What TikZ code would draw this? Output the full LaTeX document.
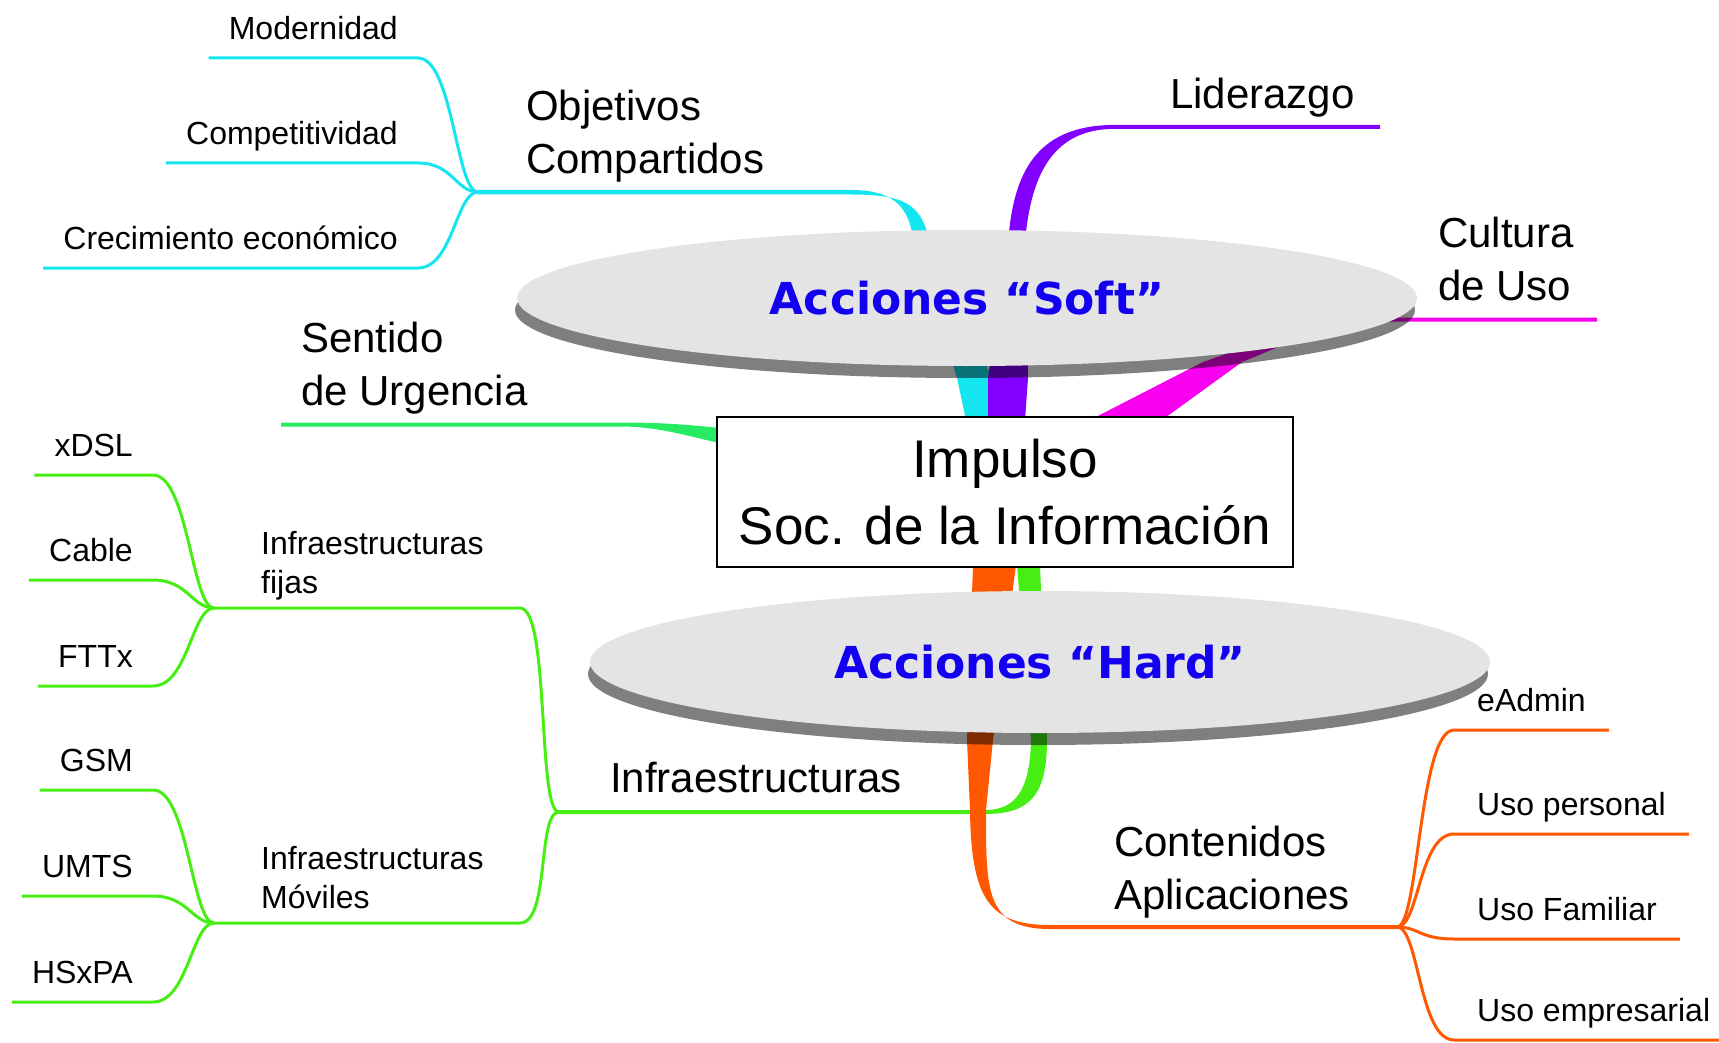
\documentclass[tikz,border=0pt]{standalone}
\usepackage{fontspec}
\setmainfont{Liberation Sans}
\newfontfamily\accfont{DejaVu Sans}
\usepackage{tikz}
\usetikzlibrary{shapes.geometric,shadows}

\definecolor{soccyan}{RGB}{20,230,240}
\definecolor{socviolet}{RGB}{130,0,255}
\definecolor{socmagenta}{RGB}{250,0,240}
\definecolor{socspring}{RGB}{40,235,100}
\definecolor{soclime}{RGB}{70,238,20}
\definecolor{socorange}{RGB}{255,88,0}
\definecolor{discgray}{RGB}{228,228,228}
\definecolor{accblue}{RGB}{20,0,240}

\begin{document}
\begin{tikzpicture}[x=1pt, y=-1pt,
  disc/.style={ellipse, fill=discgray, minimum width=900pt, minimum height=136pt, inner sep=0pt,
    drop shadow={shadow xshift=-2pt, shadow yshift=-12pt, fill=black, opacity=.5},
    font=\accfont\bfseries\fontsize{44}{50}\selectfont, text=accblue},
  core/.style={draw, line width=2.5pt, fill=white, minimum width=576pt, minimum height=150pt,
    align=center, font=\fontsize{53}{67}\selectfont},
  lab/.style={anchor=south west, align=left, inner sep=0pt, text depth=0pt, font=\fontsize{42}{53}\selectfont},
  sublab/.style={lab, font=\fontsize{32}{39}\selectfont},
  leafL/.style={anchor=south east, inner xsep=20pt, inner ysep=0pt, text depth=18pt, font=\fontsize{32}{39}\selectfont},
  leafR/.style={leafL, anchor=south west, inner xsep=23pt},
  twig/.style={line width=3pt}]
\useasboundingbox (0,0) rectangle (1719,1043);

\fill[soclime] (1017,565) -- (1031,740) .. controls (1030,795) and (1012,810) .. (985,810) -- (559,810)
  -- (559,814) -- (985,814) .. controls (1030,814) and (1047,795) .. (1047,740) -- (1040,565) -- cycle;
\fill[socorange] (973,565) -- (967,740) -- (970,810) .. controls (971,900) and (990,925) .. (1050,925) -- (1397,925)
  -- (1397,929) -- (1050,929) .. controls (985,929) and (986,890) .. (986,810) -- (993,740) -- (1016,565) -- cycle;
\fill[soccyan] (478,190) -- (850,190) .. controls (892,190) and (906,205) .. (912,232) -- (957,378) -- (966,420)
  -- (989,420) -- (992,378) -- (927,232) .. controls (918,200) and (895,194.5) .. (850,194.5) -- (478,194.5) -- cycle;
\fill[socviolet] (988,420) -- (988,378) -- (1009,232) .. controls (1015,175) and (1035,127) .. (1110,125) -- (1380,125)
  -- (1380,129) -- (1110,129) .. controls (1050,131) and (1032,180) .. (1026,232) -- (1028,378) -- (1025,420) -- cycle;
\fill[socmagenta] (1090,420) -- (1203,362) -- (1330,317.5) -- (1597,317.5) -- (1597,321.5) -- (1340,321.5)
  -- (1242,362) -- (1162,420) -- cycle;
\fill[socspring] (281,422.5) -- (620,422.5) .. controls (665,422.5) and (690,425) .. (720,428)
  -- (720,443) .. controls (690,437) and (660,426.5) .. (620,426.5) -- (281,426.5) -- cycle;

\node[disc] (soft) at (967,298) {Acciones “Soft”};
\node[disc, minimum height=142pt] (hard) at (1040,662) {Acciones “Hard”};
\node[core] (impulso) at (1005,492) {Impulso\\Soc. de la Información};

\coordinate (objetivosHub) at (478,192);
\coordinate (infraHub) at (559,812);
\coordinate (fijasHub) at (214,608);
\coordinate (movilesHub) at (214,923);
\coordinate (fijasElbow) at (520,608);
\coordinate (movilesElbow) at (520,923);
\coordinate (contenidosHub) at (1397,927);

\node[lab] (objetivos) at (526,174) {Objetivos\\Compartidos};
\node[lab] (liderazgo) at (1170,109) {Liderazgo};
\node[lab] (cultura) at (1438,301) {Cultura\\de Uso};
\node[lab] (sentido) at (301,406) {Sentido\\de Urgencia};
\node[lab] (infra) at (610,793) {Infraestructuras};
\node[lab] (contenidos) at (1114,910) {Contenidos\\Aplicaciones};
\node[sublab] (fijas) at (261,593.5) {Infraestructuras\\fijas};
\node[sublab] (moviles) at (261,908.5) {Infraestructuras\\Móviles};

\node[leafL] (modernidad) at (418,58) {Modernidad};
\node[leafL] (competitividad) at (418,163) {Competitividad};
\node[leafL] (crecimiento) at (418,268) {Crecimiento económico};
\node[leafL] (xdsl) at (153,475) {xDSL};
\node[leafL] (cable) at (153,580) {Cable};
\node[leafL] (fttx) at (153,686) {FTTx};
\node[leafL] (gsm) at (153,790) {GSM};
\node[leafL] (umts) at (153,896) {UMTS};
\node[leafL] (hsxpa) at (153,1002) {HSxPA};
\node[leafR] (eadmin) at (1454,730) {eAdmin};
\node[leafR] (personal) at (1454,834) {Uso personal};
\node[leafR] (familiar) at (1454,939) {Uso Familiar};
\node[leafR] (empresarial) at (1454,1040) {Uso empresarial};

\draw[twig, soccyan] (objetivosHub) .. controls +(-22,0) and +(35,0) .. (modernidad.south east) -- (modernidad.south west);
\draw[twig, soccyan] (objetivosHub) .. controls +(-22,0) and +(35,0) .. (competitividad.south east) -- (competitividad.south west);
\draw[twig, soccyan] (objetivosHub) .. controls +(-22,0) and +(35,0) .. (crecimiento.south east) -- (crecimiento.south west);

\draw[twig, soclime] (infraHub) .. controls +(-22,0) and +(30,0) .. (fijasElbow) -- (fijasHub);
\draw[twig, soclime] (infraHub) .. controls +(-22,0) and +(30,0) .. (movilesElbow) -- (movilesHub);
\draw[twig, soclime] (fijasHub) .. controls +(-22,0) and +(35,0) .. (xdsl.south east) -- (xdsl.south west);
\draw[twig, soclime] (fijasHub) .. controls +(-22,0) and +(35,0) .. (cable.south east) -- (cable.south west);
\draw[twig, soclime] (fijasHub) .. controls +(-22,0) and +(35,0) .. (fttx.south east) -- (fttx.south west);
\draw[twig, soclime] (movilesHub) .. controls +(-22,0) and +(35,0) .. (gsm.south east) -- (gsm.south west);
\draw[twig, soclime] (movilesHub) .. controls +(-22,0) and +(35,0) .. (umts.south east) -- (umts.south west);
\draw[twig, soclime] (movilesHub) .. controls +(-22,0) and +(35,0) .. (hsxpa.south east) -- (hsxpa.south west);

\draw[twig, socorange] (contenidosHub) .. controls +(22,0) and +(-35,0) .. (eadmin.south west) -- (eadmin.south east);
\draw[twig, socorange] (contenidosHub) .. controls +(22,0) and +(-35,0) .. (personal.south west) -- (personal.south east);
\draw[twig, socorange] (contenidosHub) .. controls +(22,0) and +(-35,0) .. (familiar.south west) -- (familiar.south east);
\draw[twig, socorange] (contenidosHub) .. controls +(22,0) and +(-35,0) .. (empresarial.south west) -- (empresarial.south east);
\end{tikzpicture}
\end{document}
